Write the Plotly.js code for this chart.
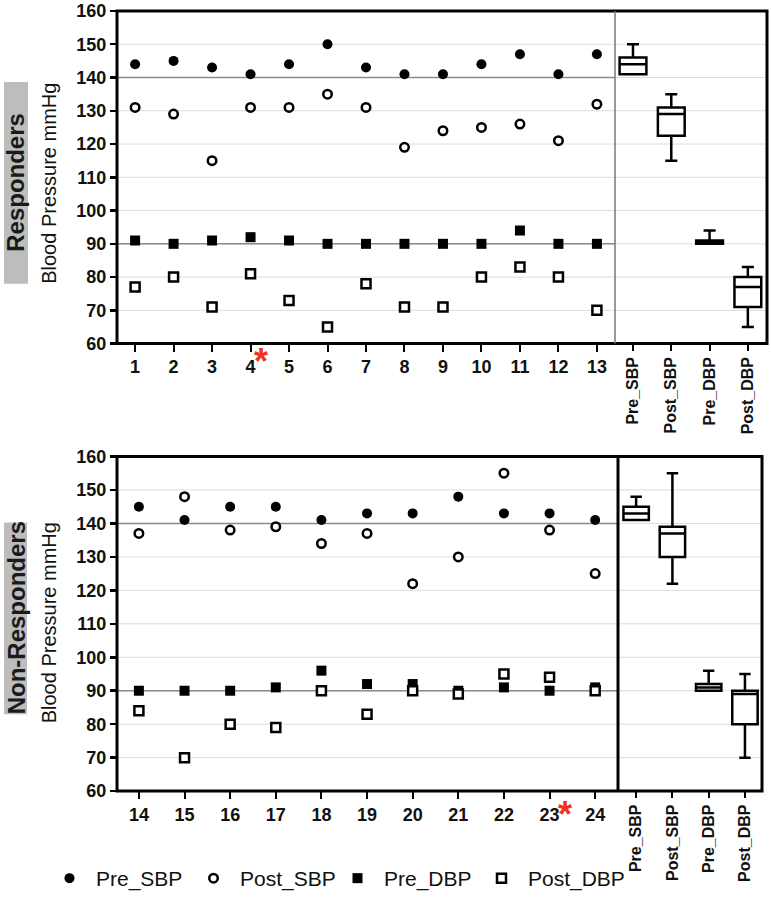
<!DOCTYPE html>
<html>
<head>
<meta charset="utf-8">
<script src="https://cdn.plot.ly/plotly-3.0.1.min.js"></script>
<style>
  html, body { margin: 0; padding: 0; background: #fff; }
  #chart { width: 771px; height: 899px; }
</style>
</head>
<body>
<div id="chart"></div>
<script>
// ---------- DATA ----------
const respIds = [1, 2, 3, 4, 5, 6, 7, 8, 9, 10, 11, 12, 13];
const respPreSBP  = [144, 145, 143, 141, 144, 150, 143, 141, 141, 144, 147, 141, 147];
const respPostSBP = [131, 129, 115, 131, 131, 135, 131, 119, 124, 125, 126, 121, 132];
const respPreDBP  = [91, 90, 91, 92, 91, 90, 90, 90, 90, 90, 94, 90, 90];
const respPostDBP = [77, 80, 71, 81, 73, 65, 78, 71, 71, 80, 83, 80, 70];

const nonIds = [14, 15, 16, 17, 18, 19, 20, 21, 22, 23, 24];
const nonPreSBP  = [145, 141, 145, 145, 141, 143, 143, 148, 143, 143, 141];
const nonPostSBP = [137, 148, 138, 139, 134, 137, 122, 130, 155, 138, 125];
const nonPreDBP  = [90, 90, 90, 91, 96, 92, 92, 90, 91, 90, 91];
const nonPostDBP = [84, 70, 80, 79, 90, 83, 90, 89, 95, 94, 90];

const boxCats = ['Pre_SBP', 'Post_SBP', 'Pre_DBP', 'Post_DBP'];
const seriesNames = ['Pre_SBP', 'Post_SBP', 'Pre_DBP', 'Post_DBP'];
const yTicks = [60, 70, 80, 90, 100, 110, 120, 130, 140, 150, 160];
const refLevels = [140, 90];

// ---------- HELPERS ----------
const FONT = 'Liberation Sans, Arial, Helvetica, sans-serif';
const W = 771, H = 899;
const px = v => v / W;
const py = v => 1 - v / H;

function quant(sorted, p) { // exclusive (n+1) method, as in GraphPad Prism
  const n = sorted.length;
  let pos = p * (n + 1);
  if (pos < 1) pos = 1;
  if (pos > n) pos = n;
  const lo = Math.floor(pos), hi = Math.ceil(pos);
  const f = pos - lo;
  return sorted[lo - 1] + f * (sorted[hi - 1] - sorted[lo - 1]);
}
function stats(arrs) {
  const out = {q1: [], median: [], q3: [], lowerfence: [], upperfence: []};
  arrs.forEach(a => {
    const s = a.slice().sort((p, q) => p - q);
    out.q1.push(quant(s, 0.25));
    out.median.push(quant(s, 0.5));
    out.q3.push(quant(s, 0.75));
    out.lowerfence.push(s[0]);
    out.upperfence.push(s[s.length - 1]);
  });
  return out;
}

const markerStyles = [
  {symbol: 'circle', size: 10, color: '#000', line: {width: 0}},
  {symbol: 'circle', size: 8.5, color: '#fff', line: {width: 2.5, color: '#000'}},
  {symbol: 'square', size: 10, color: '#000', line: {width: 0}},
  {symbol: 'square', size: 9, color: '#fff', line: {width: 2.5, color: '#000'}}
];

function scatterSet(ids, series, xa, ya, showLegend) {
  return series.map((vals, i) => ({
    type: 'scatter', mode: 'markers',
    x: ids, y: vals, name: seriesNames[i],
    xaxis: xa, yaxis: ya,
    marker: markerStyles[i],
    showlegend: showLegend,
    cliponaxis: false
  }));
}

function boxTrace(series, xa, ya) {
  const st = stats(series);
  return {
    type: 'box', x: boxCats,
    q1: st.q1, median: st.median, q3: st.q3,
    lowerfence: st.lowerfence, upperfence: st.upperfence,
    xaxis: xa, yaxis: ya,
    fillcolor: '#fff',
    line: {color: '#000', width: 2.5},
    width: 0.7, whiskerwidth: 0.45,
    showlegend: false, hoverinfo: 'skip'
  };
}

// invisible spacer entry so the last legend label is not clipped
const legendSpacer = {
  type: 'scatter', mode: 'markers', x: [null], y: [null], name: ' ',
  xaxis: 'x', yaxis: 'y', showlegend: true,
  marker: {color: 'rgba(0,0,0,0)', size: 1, line: {width: 0}}
};

const traces = [].concat(
  scatterSet(respIds, [respPreSBP, respPostSBP, respPreDBP, respPostDBP], 'x', 'y', true),
  [legendSpacer],
  [boxTrace([respPreSBP, respPostSBP, respPreDBP, respPostDBP], 'x2', 'y')],
  scatterSet(nonIds, [nonPreSBP, nonPostSBP, nonPreDBP, nonPostDBP], 'x3', 'y2', false),
  [boxTrace([nonPreSBP, nonPostSBP, nonPreDBP, nonPostDBP], 'x4', 'y2')]
);

// ---------- GEOMETRY ----------
const topP = {l: 117, mid: 615, r: 767, t: 11, b: 344};
const botP = {l: 117, mid: 618, r: 762, t: 457, b: 792};

const tickFontB = {family: FONT, size: 18, color: '#111', weight: 700};
const catFontB = {family: FONT, size: 16, color: '#111', weight: 700};

function numX(dom, range, ids, anchor) {
  return {
    domain: dom, range: range, anchor: anchor,
    tickmode: 'array', tickvals: ids, ticktext: ids.map(String),
    ticks: 'outside', ticklen: 7, tickwidth: 2, tickcolor: '#000',
    tickfont: tickFontB, showgrid: false, zeroline: false, showline: false,
    fixedrange: true
  };
}
function catX(dom, range, anchor) {
  return {
    domain: dom, range: range, anchor: anchor, type: 'category',
    categoryorder: 'array', categoryarray: boxCats,
    ticks: 'outside', ticklen: 6, tickwidth: 2, tickcolor: '#000',
    tickangle: -90, tickfont: catFontB,
    showgrid: false, zeroline: false, showline: false, fixedrange: true
  };
}
function yAx(dom, anchor) {
  return {
    domain: dom, range: [60, 160], anchor: anchor,
    tickmode: 'array', tickvals: yTicks,
    ticks: 'outside', ticklen: 6, tickwidth: 2.5, tickcolor: '#000',
    tickfont: tickFontB,
    showgrid: false, zeroline: false, showline: false, fixedrange: true
  };
}

const shapes = [];
// gray label backgrounds
shapes.push({type: 'rect', xref: 'paper', yref: 'paper', x0: px(4), x1: px(28), y0: py(284), y1: py(82),
  fillcolor: '#bdbdbd', line: {width: 0}, layer: 'below'});
shapes.push({type: 'rect', xref: 'paper', yref: 'paper', x0: px(4), x1: px(27), y0: py(715), y1: py(523),
  fillcolor: '#bdbdbd', line: {width: 0}, layer: 'below'});
// light grid lines in every sub-panel
[['x', 'y'], ['x2', 'y'], ['x3', 'y2'], ['x4', 'y2']].forEach(([xa, ya]) => {
  yTicks.forEach(v => {
    shapes.push({type: 'line', xref: xa + ' domain', yref: ya, x0: 0, x1: 1, y0: v, y1: v,
      line: {color: '#dcdcdc', width: 1}, layer: 'below'});
  });
});
// darker reference lines (scatter region only)
[['x', 'y'], ['x3', 'y2']].forEach(([xa, ya]) => {
  refLevels.forEach(v => {
    shapes.push({type: 'line', xref: xa + ' domain', yref: ya, x0: 0, x1: 1, y0: v, y1: v,
      line: {color: '#8a8a8a', width: 1.5}, layer: 'below'});
  });
});
// frames
shapes.push({type: 'rect', xref: 'paper', yref: 'paper', x0: px(topP.l), x1: px(topP.r), y0: py(topP.b), y1: py(topP.t),
  line: {color: '#000', width: 3}, fillcolor: 'rgba(0,0,0,0)'});
shapes.push({type: 'line', xref: 'paper', yref: 'paper', x0: px(topP.mid), x1: px(topP.mid), y0: py(topP.b), y1: py(topP.t),
  line: {color: '#777', width: 1.5}});
shapes.push({type: 'rect', xref: 'paper', yref: 'paper', x0: px(botP.l), x1: px(botP.r), y0: py(botP.b), y1: py(botP.t),
  line: {color: '#000', width: 3}, fillcolor: 'rgba(0,0,0,0)'});
shapes.push({type: 'line', xref: 'paper', yref: 'paper', x0: px(botP.mid), x1: px(botP.mid), y0: py(botP.b), y1: py(botP.t),
  line: {color: '#000', width: 3}});

const rot = (text, x, y, size, bold) => ({
  text: text, textangle: -90, xref: 'paper', yref: 'paper', x: px(x), y: py(y),
  xanchor: 'center', yanchor: 'middle', showarrow: false,
  font: {family: FONT, size: size, color: bold ? '#1a1a1a' : '#111', weight: bold ? 700 : 400}
});

const annotations = [
  rot('Responders', 16, 183, 24, true),
  rot('Non-Responders', 16, 619, 24, true),
  rot('Blood Pressure mmHg', 49, 184, 20, false),
  rot('Blood Pressure mmHg', 49, 624, 20, false),
  {text: '*', xref: 'x', yref: 'paper', x: 4.27, y: py(362), yanchor: 'middle',
   showarrow: false, font: {family: FONT, size: 36, color: '#f0321e', weight: 700}},
  {text: '*', xref: 'x3', yref: 'paper', x: 23.34, y: py(815), yanchor: 'middle',
   showarrow: false, font: {family: FONT, size: 36, color: '#f0321e', weight: 700}}
];

const layout = {
  width: W, height: H,
  margin: {l: 0, r: 0, t: 0, b: 0},
  paper_bgcolor: '#fff', plot_bgcolor: 'rgba(0,0,0,0)',
  font: {family: FONT, color: '#111'},
  xaxis: numX([px(topP.l), px(topP.mid)], [0.53, 13.47], respIds, 'y'),
  xaxis2: catX([px(topP.mid), px(topP.r)], [-0.47, 3.5], 'y'),
  yaxis: yAx([py(topP.b), py(topP.t)], 'x'),
  xaxis3: numX([px(botP.l), px(botP.mid)], [13.52, 24.5], nonIds, 'y2'),
  xaxis4: catX([px(botP.mid), px(botP.r)], [-0.5, 3.47], 'y2'),
  yaxis2: yAx([py(botP.b), py(botP.t)], 'x3'),
  showlegend: true,
  legend: {
    orientation: 'h', x: px(43), y: py(879), xanchor: 'left', yanchor: 'middle',
    font: {family: FONT, size: 21, color: '#111'},
    itemwidth: 43,
    entrywidth: 86, entrywidthmode: 'pixels',
    bgcolor: 'rgba(0,0,0,0)', borderwidth: 0, traceorder: 'normal'
  },
  shapes: shapes,
  annotations: annotations,
  hovermode: false
};

Plotly.newPlot('chart', traces, layout, {displayModeBar: false, staticPlot: true});
</script>
</body>
</html>
